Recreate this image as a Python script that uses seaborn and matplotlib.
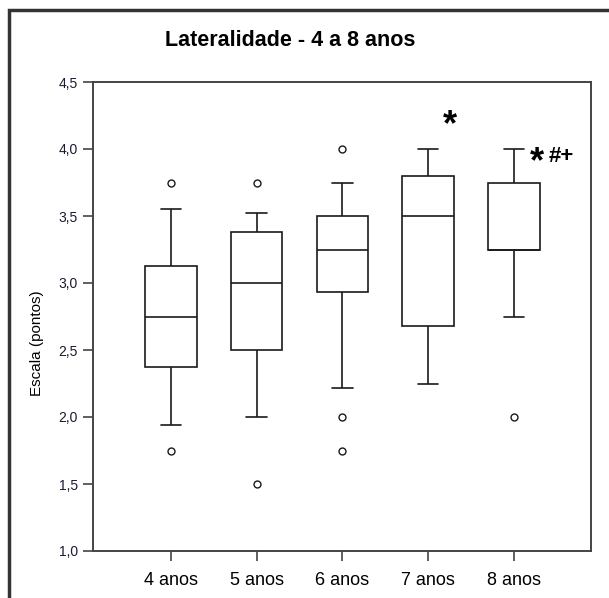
import matplotlib
matplotlib.use("Agg")
import pandas as pd
import seaborn as sns
import matplotlib.pyplot as plt
from matplotlib.patches import Rectangle

# box statistics
grupos = ["4 anos", "5 anos", "6 anos", "7 anos", "8 anos"]
bigode_inf = [1.94, 2.00, 2.22, 2.25, 2.75]
quartil_1 = [2.37, 2.50, 2.93, 2.68, 3.25]
mediana = [2.75, 3.00, 3.25, 3.50, 3.25]
quartil_3 = [3.13, 3.38, 3.50, 3.80, 3.75]
bigode_sup = [3.55, 3.52, 3.75, 4.00, 4.00]

# outliers
out_grupo = ["4 anos", "4 anos", "5 anos", "5 anos", "6 anos", "6 anos", "6 anos", "8 anos"]
out_valor = [3.75, 1.75, 3.75, 1.50, 4.00, 2.00, 1.75, 2.00]

ytick_vals = [1.0, 1.5, 2.0, 2.5, 3.0, 3.5, 4.0, 4.5]
ytick_txt = ["1,0", "1,5", "2,0", "2,5", "3,0", "3,5", "4,0", "4,5"]


def box_data():
	# five values per group -> whiskers, quartiles and median land on them
	rows = []
	for i, g in enumerate(grupos):
		for v in (bigode_inf[i], quartil_1[i], mediana[i], quartil_3[i], bigode_sup[i]):
			rows.append({"grupo": g, "escala": v})
	return pd.DataFrame(rows)


def main():
	sns.set_style("ticks")
	plt.rcParams["font.family"] = ["Liberation Sans", "DejaVu Sans"]
	plt.rcParams["text.color"] = "black"

	fig = plt.figure(figsize=(6.09, 5.98), dpi=100)
	ax = fig.add_axes([93 / 609, 47 / 598, 498 / 609, 469 / 598])

	data = box_data()
	sns.boxplot(data=data, x="grupo", y="escala", order=grupos, whis=(0, 100),
				width=0.6, color="white", linecolor="#1a1a1a", linewidth=1.2,
				capwidths=0.24, ax=ax)

	outliers = pd.DataFrame({"grupo": out_grupo, "escala": out_valor})
	sns.stripplot(data=outliers, x="grupo", y="escala", order=grupos, jitter=False,
				  color="white", edgecolor="#1a1a1a", linewidth=1.0, size=5, ax=ax, zorder=5)

	ax.set_xlim(-0.91, 4.9)
	ax.set_ylim(1.0, 4.5)
	ax.set_yticks(ytick_vals, ytick_txt)
	ax.set_xlabel("")
	ax.set_ylabel("")

	for s in ax.spines.values():
		s.set_visible(True)
		s.set_color("#444444")
		s.set_linewidth(1.4)
	ax.tick_params(axis="y", direction="out", length=7, width=1.2, color="#444444",
				   labelsize=10, pad=4, labelcolor="#1a1a33")
	ax.tick_params(axis="x", direction="out", length=7, width=1.2, color="#444444",
				   labelsize=13, pad=8, labelcolor="black")

	# significance marks
	ax.text(3.25, 4.10, "*", fontsize=26, fontweight="bold", ha="center", va="baseline")
	ax.text(4.19, 3.83, "*", fontsize=26, fontweight="bold", ha="left", va="baseline")
	ax.text(4.41, 3.905, "#+", fontsize=16, fontweight="bold", ha="left", va="baseline")

	fig.text(290 / 609, 1 - 40 / 598, "Lateralidade - 4 a 8 anos", fontsize=15.5,
			 fontweight="bold", ha="center", va="center", color="black")
	fig.text(37 / 609, 1 - 343 / 598, "Escala (pontos)", fontsize=11, rotation=90,
			 ha="center", va="center", color="black")

	# outer frame of the original figure
	fig.patches.append(Rectangle((9 / 609, -0.1), 1.2, 1 - 10 / 598 + 0.1, transform=fig.transFigure,
								 fill=False, linewidth=2.5, edgecolor="#333333"))

	fig.savefig("out.png", dpi=100)


if __name__ == "__main__":
	main()
